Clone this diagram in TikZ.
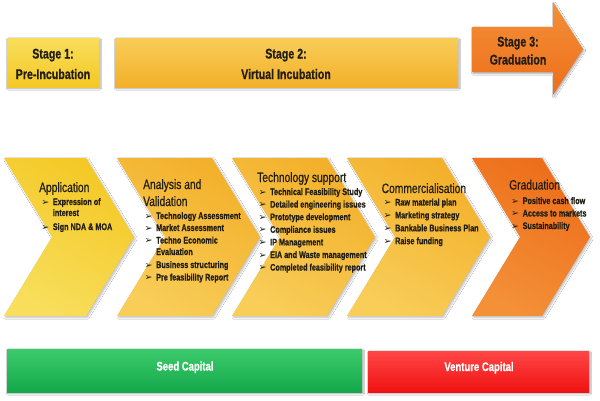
\documentclass[tikz,border=0pt]{standalone}
\usepackage{fontspec}
\usetikzlibrary{shadows.blur}
\newfontfamily\narrowfont[FakeStretch=0.76,FakeBold=0.6]{Liberation Sans}
\newfontfamily\symbfont{DejaVu Sans}
\definecolor{incuYellow}{HTML}{F4C825}
\definecolor{incuYellowLite}{HTML}{F8DE5C}
\definecolor{incuGold}{HTML}{F3B02A}
\definecolor{incuGoldLite}{HTML}{F8CD58}
\definecolor{incuOrange}{HTML}{EE6E1A}
\definecolor{incuOrangeLite}{HTML}{F39038}
\definecolor{incuGreen}{HTML}{14A84A}
\definecolor{incuGreenLite}{HTML}{3CCB6C}
\definecolor{incuRed}{HTML}{F01212}
\definecolor{incuRedLite}{HTML}{FF4646}
\definecolor{incuInk}{HTML}{221E14}
\newcommand\bul{\llap{{\symbfont\fontsize{9.5}{9.5}\selectfont ➢}\hspace{3.5pt}}}

\begin{document}
\begin{tikzpicture}[x=1pt, y=-1pt,
    barbox/.style={blur shadow={shadow xshift=1pt, shadow yshift=-1.5pt,
      shadow blur steps=6, shadow opacity=35}},
    chevbox/.style={blur shadow={shadow xshift=1.5pt, shadow yshift=-1.5pt,
      shadow blur steps=6, shadow opacity=25}},
    stagelabel/.style={font=\narrowfont\bfseries\fontsize{14}{16}\selectfont,
      text=incuInk, inner sep=0pt, anchor=base},
    chevtitle/.style={font=\narrowfont\fontsize{13.5}{15}\selectfont,
      text=incuInk, inner sep=0pt, anchor=base west},
    chevitem/.style={font=\narrowfont\bfseries\fontsize{9.5}{11}\selectfont,
      text=incuInk, inner sep=0pt, anchor=base west},
    caplabel/.style={font=\narrowfont\bfseries\fontsize{12.5}{14}\selectfont,
      text=white, inner sep=0pt, anchor=base}]
    \fill[white] (0,0) rectangle (600,400);
    \useasboundingbox (0,0) rectangle (600,400);
    % ---- stages ----
    \shade[barbox, top color=incuYellowLite, bottom color=incuYellow]
      (7,38) rectangle (99,87);
    \shade[barbox, top color=incuGoldLite, bottom color=incuGold]
      (115,38) rectangle (458,87);
    \shade[barbox, top color=incuOrangeLite, bottom color=incuOrange]
      (472,27) -- (553,27) -- (553,2) -- (583,49) -- (553,95) -- (553,72)
      -- (472,72) -- cycle;
    \node[stagelabel] (s1-top) at (53,58.5) {Stage 1:};
    \node[stagelabel] (s1-bot) at (53,79) {Pre-Incubation};
    \node[stagelabel] (s2-top) at (286,58.5) {Stage 2:};
    \node[stagelabel] (s2-bot) at (286,79) {Virtual Incubation};
    \node[stagelabel] (s3-top) at (518,46.5) {Stage 3:};
    \node[stagelabel] (s3-bot) at (518,64.5) {Graduation};
    % ---- chevrons ----
    \foreach \l/\r/\col in {4/86/incuYellow, 117/212/incuGold,
        232/327/incuGold, 347/442/incuGold, 472/542/incuOrange}
      \shade[chevbox, top color=\col, bottom color=\col Lite,
             shading angle=-30]
        (\l,158) -- (\r,158) -- ({\r+48},237) -- (\r,316) -- (\l,316)
        -- ({\l+48},237) -- cycle;
    % application
    \node[chevtitle] (app) at (39,192) {Application};
    \foreach \y/\t [count=\i] in {205/\bul Expression of, 216/interest,
        230/\bul Sign NDA \& MOA}
      \node[chevitem] (app-\i) at (52.7,\y) {\t};
    % analysis
    \node[chevtitle] (ana) at (143,189) {Analysis and};
    \node[chevtitle] (ana-2) at (143,206) {Validation};
    \foreach \y/\t [count=\i] in {219/\bul Technology Assessment,
        231/\bul Market Assessment, 243.5/\bul Techno Economic,
        255/Evaluation, 268/\bul Business structuring,
        280.5/\bul Pre feasibility Report}
      \node[chevitem] (ana-\i) at (156,\y) {\t};
    % technology support
    \node[chevtitle] (tech) at (257,182) {Technology support};
    \foreach \t [count=\i] in {Technical Feasibility Study,
        Detailed engineering issues, Prototype development,
        Compliance issues, IP Management, EIA and Waste management,
        Completed feasibility report}
      \node[chevitem] (tech-\i) at (270,{195+12.6*(\i-1)}) {\bul\t};
    % commercialisation
    \node[chevtitle] (com) at (381.5,193) {Commercialisation};
    \foreach \t [count=\i] in {Raw material plan, Marketing strategy,
        Bankable Business Plan, Raise funding}
      \node[chevitem] (com-\i) at (395,{205.5+12.9*(\i-1)}) {\bul\t};
    % graduation
    \node[chevtitle] (grad) at (509,189.5) {Graduation};
    \foreach \t [count=\i] in {Positive cash flow, Access to markets,
        Sustainability}
      \node[chevitem] (grad-\i) at (522.5,{204+12.5*(\i-1)}) {\bul\t};
    % ---- capital ----
    \shade[barbox, top color=incuGreenLite, bottom color=incuGreen]
      (7,349) rectangle (362,392);
    \shade[barbox, top color=incuRedLite, bottom color=incuRed]
      (368,351) rectangle (589,392);
    \node[caplabel] (seed) at (185,370.5) {Seed Capital};
    \node[caplabel] (venture) at (479,371) {Venture Capital};
  \end{tikzpicture}
\end{document}
